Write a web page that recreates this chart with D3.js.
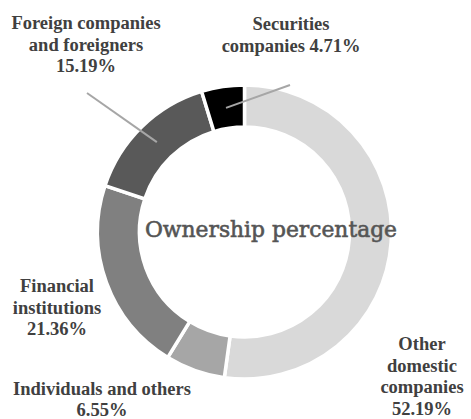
<!DOCTYPE html>
<html>
<head>
<meta charset="utf-8">
<script src="https://cdn.jsdelivr.net/npm/d3@7"></script>
<style>
  body { margin: 0; background: #fff; }
</style>
</head>
<body>
<div id="chart"></div>
<script>
// chart data
var categories = ["Other domestic companies", "Individuals and others", "Financial institutions",
                  "Foreign companies and foreigners", "Securities companies"];
var values = [52.19, 6.55, 21.36, 15.19, 4.71];
var labelLines = [
  ["Other", "domestic", "companies", "52.19%"],
  ["Individuals and others", "6.55%"],
  ["Financial", "institutions", "21.36%"],
  ["Foreign companies", "and foreigners", "15.19%"],
  ["Securities", "companies 4.71%"]
];
var centerTitle = "Ownership percentage";

// layout
var svgWidth = 471;
var svgHeight = 419;
var cx = 244.5, cy = 232;
var outerR = 147, innerR = 105;
var colors = ["#d9d9d9", "#a6a6a6", "#808080", "#595959", "#000000"];
// label anchor (x, first baseline) per slice, and leader end point (null = no leader)
var labelPos = [[422, 350], [102, 394.5], [57, 292], [86, 29], [291, 30]];
var leaderEnd = [null, null, null, [87, 93], [290, 85]];
var lineGap = 21.6;

var svg = d3.select("#chart")
  .append("svg")
  .attr("width", svgWidth)
  .attr("height", svgHeight);

var g = svg.append("g")
  .attr("transform", `translate(${cx}, ${cy})`);

var pie = d3.pie().sort(null).value(d => d);
var arc = d3.arc().innerRadius(innerR).outerRadius(outerR);
var mid = d3.arc().innerRadius((innerR + outerR) / 2 - 0.5).outerRadius((innerR + outerR) / 2 - 0.5);

var arcs = pie(values);

g.selectAll("path.slice")
  .data(arcs)
  .enter()
  .append("path")
  .attr("class", "slice")
  .attr("d", arc)
  .attr("fill", (d, i) => colors[i])
  .attr("stroke", "#fff")
  .attr("stroke-width", 3.5);

// leader lines from slice centroid out to the label
arcs.forEach(function(d, i) {
  if (!leaderEnd[i]) return;
  var c = mid.centroid(d);
  g.append("line")
    .attr("x1", c[0])
    .attr("y1", c[1])
    .attr("x2", leaderEnd[i][0] - cx)
    .attr("y2", leaderEnd[i][1] - cy)
    .attr("stroke", "#a6a6a6")
    .attr("stroke-width", 2);
});

// center title
svg.append("text")
  .attr("x", 271)
  .attr("y", 237)
  .attr("text-anchor", "middle")
  .attr("textLength", 252)
  .attr("lengthAdjust", "spacingAndGlyphs")
  .style("font-family", "'DejaVu Serif', serif")
  .style("font-size", "22px")
  .attr("fill", "#555")
  .attr("stroke", "#555")
  .attr("stroke-width", 0.6)
  .text(centerTitle);

// slice labels
labelLines.forEach(function(lines, i) {
  var t = svg.append("text")
    .attr("text-anchor", "middle")
    .style("font-family", "'Liberation Serif', 'Times New Roman', serif")
    .style("font-weight", "bold")
    .style("font-size", "18.5px")
    .attr("fill", "#404040");
  lines.forEach(function(s, j) {
    t.append("tspan")
      .attr("x", labelPos[i][0])
      .attr("y", labelPos[i][1] + j * lineGap)
      .text(s);
  });
});
</script>
</body>
</html>
